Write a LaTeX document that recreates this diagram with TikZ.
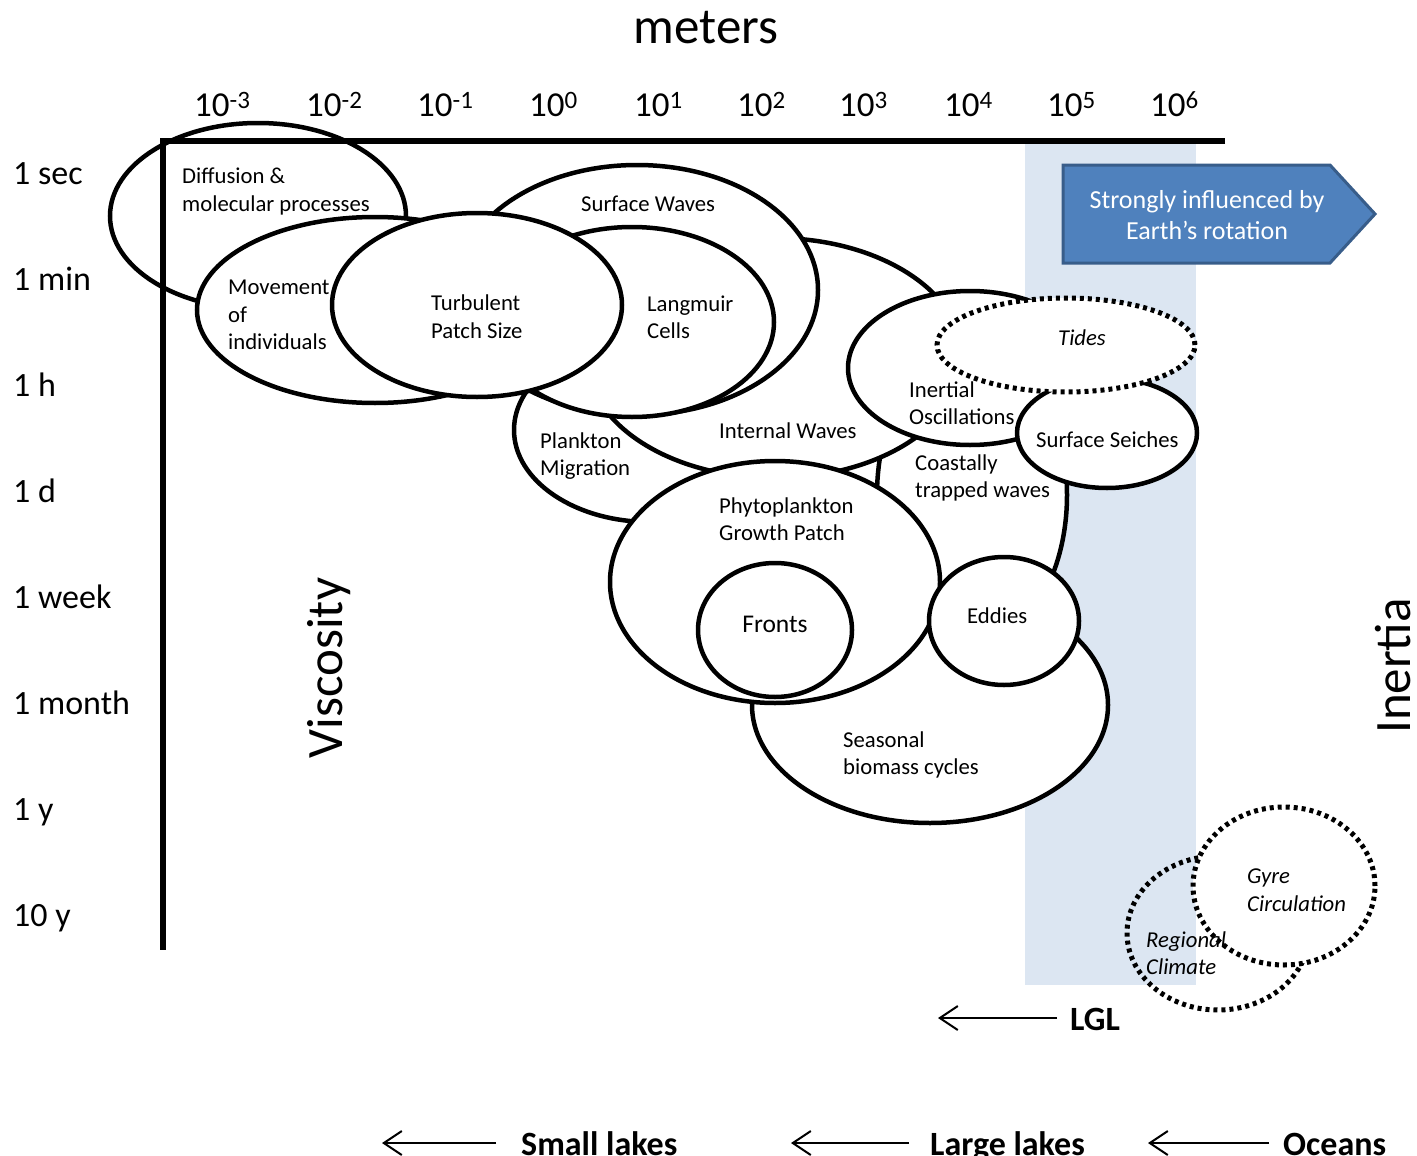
\documentclass[tikz,border=0pt]{standalone}
\usepackage{fontspec}
\setmainfont{Carlito}
\usetikzlibrary{arrows.meta}
\definecolor{bandblue}{HTML}{DCE6F2}
\definecolor{boxblue}{HTML}{4F81BD}
\definecolor{boxedge}{HTML}{385D8A}
\newcommand\tenpow[1]{10\raisebox{9pt}{\fontsize{25}{25}\selectfont #1}}
\begin{document}
\begin{tikzpicture}[x=1pt,y=-1pt,
  ell/.style={draw, line width=4.5pt, fill=white},
  dring/.style={draw, line width=5pt, dash pattern=on 4pt off 4pt},
  lbl/.style={font=\fontsize{22.7}{27}\selectfont, inner sep=0pt, anchor=base west},
  ilbl/.style={lbl, font=\fontsize{22.7}{27}\selectfont\itshape},
  rowlbl/.style={font=\fontsize{34}{40}\selectfont, inner sep=0pt, anchor=base west},
  ticklbl/.style={font=\fontsize{35}{40}\selectfont, inner sep=0pt, anchor=base west},
  biglbl/.style={font=\fontsize{51}{60}\selectfont, inner sep=0pt},
  boldlbl/.style={font=\fontsize{34}{40}\selectfont\bfseries, inner sep=0pt, anchor=base west},
  boxlbl/.style={font=\fontsize{26}{30}\selectfont, text=white, inner sep=0pt, anchor=base},
  arr/.style={line width=2pt, -{Straight Barb[length=18pt,width=24pt]}},
  axisline/.style={line width=5.5pt, line join=miter}
]
\useasboundingbox (0,0) rectangle (1417,1156);
\fill[white] (0,0) rectangle (1417,1156);

% band of strong rotation influence
\fill[bandblue] (1025,143) rectangle (1196,985);

% process ellipses (back to front)
\path[ell] (258,216) ellipse [x radius=148pt, y radius=93pt];   % diffusion
\path[ell] (375,310) ellipse [x radius=178pt, y radius=93pt];   % movement
\path[ell] (650,430) ellipse [x radius=136pt, y radius=92pt];   % plankton migration
\path[ell] (972,495) ellipse [x radius=95pt, y radius=150pt];   % coastally trapped
\path[ell] (930,705) ellipse [x radius=178pt, y radius=118pt];  % seasonal
\path[ell] (775,358) ellipse [x radius=188pt, y radius=120pt];  % internal waves
\path[ell] (637,290) ellipse [x radius=181pt, y radius=125pt];  % surface waves
\path[ell] (632,322) ellipse [x radius=142pt, y radius=95pt];   % langmuir
\path[ell] (477,305) ellipse [x radius=145pt, y radius=92pt];   % turbulent
\path[ell] (970,368) ellipse [x radius=122pt, y radius=77pt];   % inertial
\path[ell] (1107,433) ellipse [x radius=90pt, y radius=55pt];   % seiches
\path[dring, fill=white] (1066,345) ellipse [x radius=129pt, y radius=47pt]; % tides
\path[ell] (775,582) ellipse [x radius=165pt, y radius=121pt];  % phytoplankton
\path[ell] (775,630) ellipse [x radius=77pt, y radius=67pt];    % fronts
\path[ell] (1004,621) ellipse [x radius=75pt, y radius=64pt];   % eddies
\path[dring] (1218,933) ellipse [x radius=91pt, y radius=77pt]; % regional climate
\path[dring, fill=white] (1284,886) ellipse [x radius=91pt, y radius=79pt]; % gyre

% axes
\draw[axisline] (1225,141) -- (163,141) -- (163,950);

% blue arrow box
\draw[fill=boxblue, draw=boxedge, line width=3pt, line join=miter]
  (1063,165) -- (1330,165) -- (1375,214) -- (1330,263) -- (1063,263) -- cycle;
\node[boxlbl] (rot1) at (1207,208) {Strongly influenced by};
\node[boxlbl] (rot2) at (1207,239) {Earth’s rotation};

% titles
\node[biglbl, anchor=base] (meters) at (706,44) {meters};
\node[biglbl, rotate=90] (visc) at (329,668) {Viscosity};
\node[biglbl, rotate=90] (inertia) at (1393,666) {Inertia};

% tick labels
\node[ticklbl] (t1) at (194,117) {\tenpow{-3}};
\node[ticklbl] (t2) at (306,117) {\tenpow{-2}};
\node[ticklbl] (t3) at (417,117) {\tenpow{-1}};
\node[ticklbl] (t4) at (529,117) {\tenpow{0}};
\node[ticklbl] (t5) at (634,117) {\tenpow{1}};
\node[ticklbl] (t6) at (737,117) {\tenpow{2}};
\node[ticklbl] (t7) at (839,117) {\tenpow{3}};
\node[ticklbl] (t8) at (944,117) {\tenpow{4}};
\node[ticklbl] (t9) at (1047,117) {\tenpow{5}};
\node[ticklbl] (t10) at (1150,117) {\tenpow{6}};

% row labels
\node[rowlbl] (r1) at (13,184) {1 sec};
\node[rowlbl] (r2) at (13,290) {1 min};
\node[rowlbl] (r3) at (13,396) {1 h};
\node[rowlbl] (r4) at (13,502) {1 d};
\node[rowlbl] (r5) at (13,608) {1 week};
\node[rowlbl] (r6) at (13,714) {1 month};
\node[rowlbl] (r7) at (13,820) {1 y};
\node[rowlbl] (r8) at (13,926) {10 y};

% ellipse labels
\node[lbl] (dif1) at (182,183) {Diffusion \&};
\node[lbl] (dif2) at (182,211) {molecular processes};
\node[lbl] (mov1) at (228,294) {Movement};
\node[lbl] (mov2) at (228,322) {of};
\node[lbl] (mov3) at (228,349) {individuals};
\node[lbl] (tur1) at (431,310) {Turbulent};
\node[lbl] (tur2) at (431,338) {Patch Size};
\node[lbl] (sw) at (581,211) {Surface Waves};
\node[lbl] (lan1) at (647,311) {Langmuir};
\node[lbl] (lan2) at (647,338) {Cells};
\node[lbl] (pm1) at (540,448) {Plankton};
\node[lbl] (pm2) at (540,475) {Migration};
\node[lbl] (iw) at (719,438) {Internal Waves};
\node[lbl] (io1) at (909,397) {Inertial};
\node[lbl] (io2) at (909,424) {Oscillations};
\node[ilbl] (tid) at (1058,345) {Tides};
\node[lbl] (ss) at (1036,447) {Surface Seiches};
\node[lbl] (ct1) at (915,470) {Coastally};
\node[lbl] (ct2) at (915,497) {trapped waves};
\node[lbl] (ph1) at (719,513) {Phytoplankton};
\node[lbl] (ph2) at (719,540) {Growth Patch};
\node[lbl, font=\fontsize{25.5}{30}\selectfont, anchor=base] (fr) at (775,632) {Fronts};
\node[lbl] (ed) at (967,623) {Eddies};
\node[lbl] (sb1) at (843,747) {Seasonal};
\node[lbl] (sb2) at (843,774) {biomass cycles};
\node[ilbl] (gy1) at (1247,883) {Gyre};
\node[ilbl] (gy2) at (1247,911) {Circulation};
\node[ilbl] (rc1) at (1146,947) {Regional};
\node[ilbl] (rc2) at (1146,974) {Climate};

% scale arrows
\node[boldlbl] (lgl) at (1070,1030) {LGL};
\coordinate (lglS) at (1057,1018);
\coordinate (lglE) at (938,1018);
\draw[arr] (lglS) -- (lglE);

\node[boldlbl] (small) at (521,1155) {Small lakes};
\node[boldlbl] (large) at (930,1155) {Large lakes};
\node[boldlbl] (ocean) at (1283,1155) {Oceans};
\coordinate (smS) at (496,1143);
\coordinate (smE) at (382,1143);
\coordinate (lgS) at (909,1143);
\coordinate (lgE) at (791,1143);
\coordinate (ocS) at (1269,1143);
\coordinate (ocE) at (1148,1143);
\draw[arr] (smS) -- (smE);
\draw[arr] (lgS) -- (lgE);
\draw[arr] (ocS) -- (ocE);
\end{tikzpicture}
\end{document}
